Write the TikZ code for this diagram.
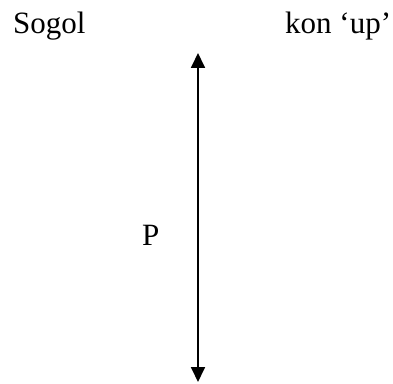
\documentclass[tikz,border=0pt]{standalone}
\usepackage{fontspec}
\setmainfont{Liberation Serif}
\usetikzlibrary{arrows.meta}
\begin{document}
\begin{tikzpicture}[x=1pt,y=1pt,
  lbl/.style={anchor=base west,inner sep=0pt,font=\fontsize{31}{37}\selectfont},
  dblarrow/.style={line width=1.8pt,{Triangle[length=15pt,width=14pt]}-{Triangle[length=15pt,width=14pt]}}]
\useasboundingbox (0,0) rectangle (393,383);
\node[lbl] (sogol) at (13,349) {Sogol};
\node[lbl] (kon) at (285,349) {kon ‘up’};
\node[lbl] (p) at (142,138) {P};
\coordinate (top) at (198,330);
\coordinate (bot) at (198,1);
\draw[dblarrow] (bot) -- (top);
\end{tikzpicture}
\end{document}
